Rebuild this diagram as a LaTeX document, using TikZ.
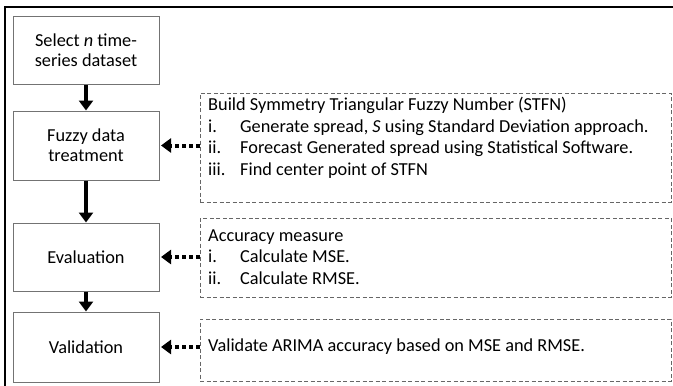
\documentclass[tikz,border=0pt]{standalone}
\usepackage{fontspec}
\setmainfont{Carlito}
\usetikzlibrary{arrows.meta}
\begin{document}
\begin{tikzpicture}[x=1pt,y=1pt,
  stepbox/.style={draw=black!55,line width=1pt,fill=white,minimum width=146pt,inner sep=0pt,align=center,font=\fontsize{18.3}{20}\selectfont},
  notebox/.style={draw=black!60,line width=0.8pt,dash pattern=on 4pt off 2.5pt,minimum width=471pt,inner sep=0pt},
  txt/.style={anchor=west,inner sep=0pt,text height=13pt,text depth=4pt,font=\fontsize{18.3}{20}\selectfont},
  flow/.style={line width=3.5pt,-{Triangle[length=10pt,width=14pt]}},
  feed/.style={line width=4pt,dash pattern=on 4pt off 3pt,-{Triangle[length=10pt,width=14pt]}}
]
\useasboundingbox (0,0) rectangle (673,-386);
\fill[white] (0,0) rectangle (673,-386);
% outer frame (partially visible)
\draw[line width=2pt] (5,-386) -- (5,-7) -- (673,-7);
% step boxes
\node[stepbox,minimum height=68pt] (b1) at (86,-50.5) {Select \textit{n} time-\\series dataset};
\node[stepbox,minimum height=69pt] (b2) at (86,-145.5) {Fuzzy data\\treatment};
\node[stepbox,minimum height=68pt] (b3) at (86,-257) {Evaluation};
\node[stepbox,minimum height=70pt] (b4) at (86,-347) {Validation};
% note boxes
\node[notebox,minimum height=109pt] (nA) at (435.5,-147.5) {};
\node[notebox,minimum height=79pt] (nB) at (435.5,-257.5) {};
\node[notebox,minimum height=62pt] (nC) at (435.5,-350) {};
% texts A
\node[txt] (a0) at (208,-106) {Build Symmetry Triangular Fuzzy Number (STFN)};
\node[txt] (a1l) at (208,-127.5) {i.};
\node[txt] (a1) at (240,-127.5) {Generate spread, \textit{S} using Standard Deviation approach.};
\node[txt] (a2l) at (208,-149) {ii.};
\node[txt] (a2) at (240,-149) {Forecast Generated spread using Statistical Software.};
\node[txt] (a3l) at (208,-170.5) {iii.};
\node[txt] (a3) at (240,-170.5) {Find center point of STFN};
% texts B
\node[txt] (bb0) at (208,-236.5) {Accuracy measure};
\node[txt] (bb1l) at (208,-258) {i.};
\node[txt] (bb1) at (240,-258) {Calculate MSE.};
\node[txt] (bb2l) at (208,-279.5) {ii.};
\node[txt] (bb2) at (240,-279.5) {Calculate RMSE.};
% text C
\node[txt] (c0) at (208,-346.5) {Validate ARIMA accuracy based on MSE and RMSE.};
% flow arrows
\draw[flow] (b1) -- (b2);
\draw[flow] (b2) -- (b3);
\draw[flow] (b3) -- (b4);
% feed arrows
\draw[feed] (nA.west |- b2.east) -- ([xshift=1.5pt]b2.east);
\draw[feed] (nB.west |- b3.east) -- ([xshift=1.5pt]b3.east);
\draw[feed] (nC.west |- b4.east) -- ([xshift=1.5pt]b4.east);
\end{tikzpicture}
\end{document}
